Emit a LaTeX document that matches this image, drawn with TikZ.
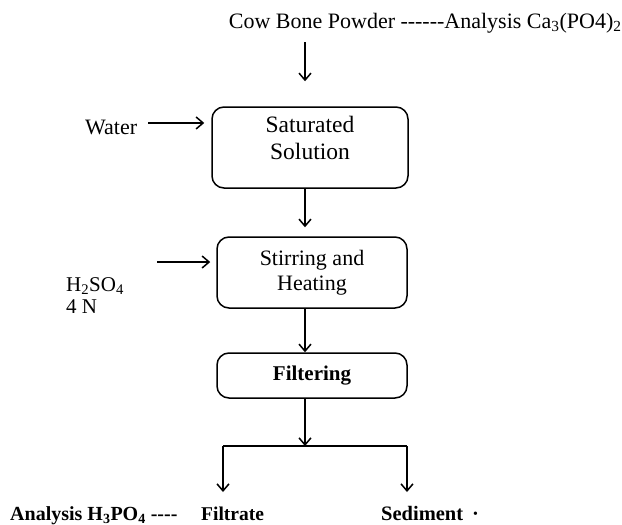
\documentclass[tikz,border=0pt]{standalone}
\usepackage{fontspec}
\setmainfont{Liberation Serif}
\usetikzlibrary{arrows.meta,positioning,calc}

\begin{document}
\begin{tikzpicture}
[x=1pt,y=-1pt,
 procbox/.style={rectangle,rounded corners=12pt,draw=black,line width=1.5pt,align=center,inner sep=0pt},
 lbl/.style={inner sep=0pt,align=left},
 flow/.style={line width=1.5pt,-{Straight Barb[length=7pt,width=12pt,line width=1.5pt]}}]
\useasboundingbox (0,0) rectangle (622,525);
\fontsize{22}{22}\selectfont

% raw material
\node[lbl,anchor=base] (cbp) at (312,28) {Cow Bone Powder};
\node[lbl,anchor=base west] (ca) at ($(cbp.base east)+(5,0)$) {-{}-{}-{}-{}-{}-Analysis Ca\textsubscript{3}(PO4)\textsubscript{2}};

% process steps
\node[procbox,minimum width=196pt,minimum height=81pt,font=\fontsize{23.5}{27}\selectfont,text depth=20pt] (sat) at (310,147.5) {Saturated\\Solution};
\node[procbox,minimum width=190pt,minimum height=71pt,font=\fontsize{22}{25}\selectfont] (stir) at (312,272.5) {Stirring and\\Heating};
\node[procbox,minimum width=190pt,minimum height=45pt,font=\fontsize{21}{25}\selectfont\bfseries] (fil) at (312,375.5) {Filtering};

% inputs
\node[lbl,anchor=base west] (water) at (85,134) {Water};
\node[lbl,anchor=base west,font=\fontsize{21}{22}\selectfont] (acid) at (66,313) {H\textsubscript{2}SO\textsubscript{4}\\4 N};
\coordinate (acidin) at (157,262);

% products
\coordinate (split) at (305,446);
\coordinate (lsplit) at (223,446);
\coordinate (rsplit) at (407,446);
\coordinate (lend) at (223,492);
\coordinate (rend) at (407,492);
\node[lbl,anchor=base west,font=\fontsize{20}{22}\selectfont\bfseries] (h3po4) at (10,520) {Analysis H\textsubscript{3}PO\textsubscript{4} -{}-{}-{}-};
\node[lbl,anchor=base west,font=\fontsize{19.5}{22}\selectfont\bfseries] (filt) at (201,520) {Filtrate};
\node[lbl,anchor=base west,font=\fontsize{20.5}{22}\selectfont\bfseries] (sed) at (381,520) {Sediment\hspace{9pt}·};

\draw[flow,shorten <=14pt,shorten >=25pt] (cbp.south -| split) -- (sat.north -| split);
\draw[flow,shorten <=11pt,shorten >=7pt] ([yshift=4pt]water.east) -- ([yshift=4pt]water.east -| sat.west);
\draw[flow,shorten >=6pt] (acidin) -- (acidin -| stir.west);
\draw[flow,shorten >=9pt] (sat.south -| split) -- (stir.north -| split);
\draw[flow] (stir.south -| split) -- (fil.north -| split);
\draw[flow] (fil.south -| split) -- (split);
\draw[line width=1.5pt] (lsplit) -- (rsplit);
\draw[flow] (lsplit) -- (lend);
\draw[flow] (rsplit) -- (rend);
\end{tikzpicture}
\end{document}
